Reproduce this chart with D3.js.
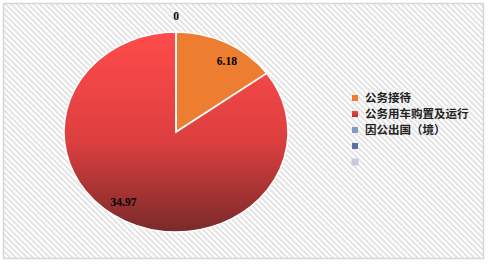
<!DOCTYPE html>
<html>
<head>
<meta charset="utf-8">
<script src="https://cdn.jsdelivr.net/npm/d3@7"></script>
<style>
  body { margin: 0; background: #fff; }
  svg { display: block; }
</style>
</head>
<body>
<div id="chart"></div>
<script>
// chart data
const categories = ["公务接待", "公务用车购置及运行", "因公出国（境）", "", ""];
const values = [6.18, 34.97, 0, null, null];
const labels = ["6.18", "34.97", "0"];
const colors = ["#ED7D31", "url(#redGrad)", "#8497C6", "#5B6FA9", "#C3CAE2"];

const width = 490, height = 264;
const cx = 176, cy = 132, rx = 112, ry = 100;

const svg = d3.select("#chart")
    .append("svg")
    .attr("width", width)
    .attr("height", height);

const defs = svg.append("defs");

// striped background
const pat = defs.append("pattern")
    .attr("id", "stripes")
    .attr("patternUnits", "userSpaceOnUse")
    .attr("width", 4)
    .attr("height", 4)
    .attr("patternTransform", "rotate(-45)");
pat.append("rect").attr("width", 4).attr("height", 4).attr("fill", "#fff");
pat.append("rect").attr("width", 2).attr("height", 4).attr("fill", "#E3E3E3");

// red gradient
const grad = defs.append("linearGradient")
    .attr("id", "redGrad")
    .attr("x1", 0).attr("y1", 0).attr("x2", 0).attr("y2", 1);
grad.append("stop").attr("offset", "0%").attr("stop-color", "#FF4B4B");
grad.append("stop").attr("offset", "55%").attr("stop-color", "#DC3F3F");
grad.append("stop").attr("offset", "100%").attr("stop-color", "#7A2A2A");

// legend marker gradient
const lg = defs.append("linearGradient")
    .attr("id", "redLeg")
    .attr("x1", 0).attr("y1", 0).attr("x2", 0).attr("y2", 1);
lg.append("stop").attr("offset", "0%").attr("stop-color", "#F04848");
lg.append("stop").attr("offset", "100%").attr("stop-color", "#C03030");

svg.append("rect")
    .attr("x", 3.5).attr("y", 3.5)
    .attr("width", 480).attr("height", 255)
    .attr("fill", "url(#stripes)")
    .attr("stroke", "#D6D6D6")
    .attr("stroke-width", 1.5);

// pie, drawn on a unit circle then stretched into an ellipse
const pieData = values.map((v, i) => ({ name: categories[i], value: v, i: i }))
    .filter(d => d.value !== null);

const pie = d3.pie().sort(null).value(d => d.value);
const arcs = pie(pieData);

const arc = d3.arc().innerRadius(0).outerRadius(100);

const g = svg.append("g")
    .attr("transform", `translate(${cx},${cy})`);

g.append("g")
    .attr("transform", `scale(${rx / 100},${ry / 100})`)
    .selectAll("path")
    .data(arcs)
    .enter()
    .append("path")
    .attr("d", arc)
    .attr("fill", d => colors[d.data.i])
    .attr("stroke", "#fff")
    .attr("stroke-width", 1.5)
    .attr("vector-effect", "non-scaling-stroke");

// data labels
function labelPos(d) {
    const a = (d.startAngle + d.endAngle) / 2;
    const r = d.value === 0 ? 1.16 : 0.84;
    const off = d.value === 0 ? 0 : (d.data.i === 0 ? 0.1 : 0.12);
    return [Math.sin(a + off) * rx * r, -Math.cos(a + off) * ry * r];
}

g.selectAll("text.lbl")
    .data(arcs)
    .enter()
    .append("text")
    .attr("class", "lbl")
    .attr("x", d => labelPos(d)[0])
    .attr("y", d => labelPos(d)[1])
    .attr("dy", "0.35em")
    .attr("text-anchor", "middle")
    .style("font-family", "'Liberation Serif', serif")
    .style("font-weight", "bold")
    .style("font-size", "11.5px")
    .style("fill", "#000")
    .text(d => labels[d.data.i]);

// legend
const legend = svg.append("g")
    .attr("transform", "translate(352,98)");

const items = legend.selectAll("g")
    .data(categories)
    .enter()
    .append("g")
    .attr("transform", (d, i) => `translate(0,${i * 16})`);

items.append("rect")
    .attr("x", (d, i) => i === 4 ? -0.5 : 0)
    .attr("y", (d, i) => i === 4 ? -3.5 : -3)
    .attr("width", (d, i) => i === 4 ? 7 : 6)
    .attr("height", (d, i) => i === 4 ? 7 : 6)
    .attr("fill", (d, i) => i === 1 ? "url(#redLeg)" : colors[i]);

items.append("text")
    .attr("x", 13)
    .attr("y", 0)
    .attr("dy", "0.36em")
    .style("font-family", "'Noto Sans CJK SC', sans-serif")
    .style("font-weight", "bold")
    .style("font-size", "11.5px")
    .style("fill", "#222")
    .text(d => d);
</script>
</body>
</html>
